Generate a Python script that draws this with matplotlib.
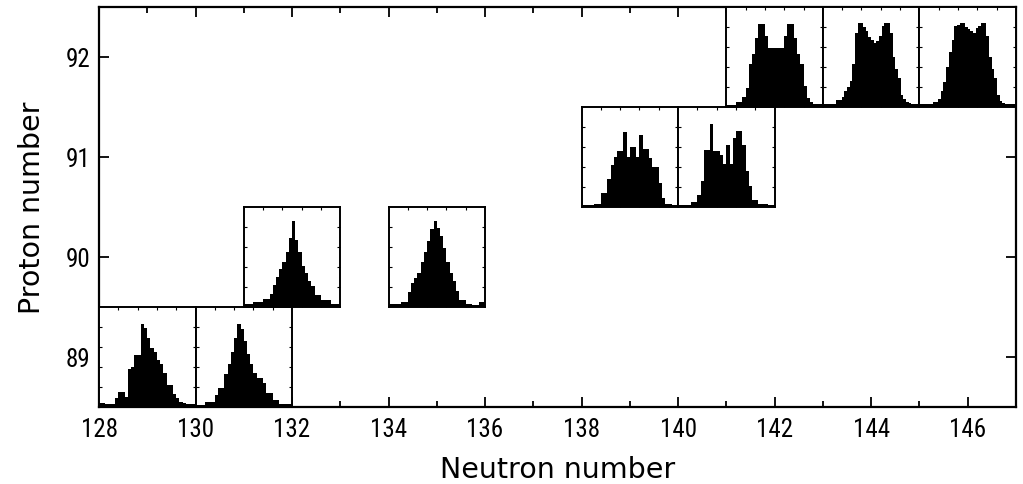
import matplotlib
matplotlib.use("Agg")
import matplotlib.pyplot as plt
import numpy as np

# nuclei (neutron number, proton number) with fragment mass distributions
nuclei_N = [129, 131, 132, 135, 139, 141, 142, 144, 146]
nuclei_Z = [89, 89, 90, 90, 91, 91, 92, 92, 92]

hist_129_89 = [0.04, 0.04, 0.03, 0.03, 0.03, 0.09, 0.15, 0.15, 0.10, 0.38, 0.40, 0.52, 0.52, 0.83, 0.79,
               0.69, 0.59, 0.55, 0.47, 0.43, 0.34, 0.22, 0.22, 0.13, 0.09, 0.05, 0.04, 0.03, 0.03, 0.03]
hist_131_89 = [0.02, 0.02, 0.02, 0.05, 0.05, 0.05, 0.12, 0.19, 0.19, 0.33, 0.43, 0.55, 0.69, 0.83, 0.78,
               0.66, 0.53, 0.43, 0.34, 0.29, 0.29, 0.24, 0.14, 0.14, 0.07, 0.07, 0.03, 0.03, 0.03, 0.03]
hist_132_90 = [0.03, 0.03, 0.03, 0.05, 0.05, 0.05, 0.08, 0.08, 0.13, 0.22, 0.30, 0.38, 0.45, 0.55, 0.69,
               0.86, 0.67, 0.55, 0.41, 0.34, 0.26, 0.21, 0.12, 0.12, 0.07, 0.07, 0.07, 0.03, 0.03, 0.03]
hist_135_90 = [0.03, 0.03, 0.03, 0.03, 0.05, 0.05, 0.15, 0.24, 0.29, 0.34, 0.45, 0.55, 0.66, 0.78, 0.86,
               0.79, 0.71, 0.59, 0.45, 0.34, 0.26, 0.16, 0.07, 0.07, 0.03, 0.03, 0.02, 0.02, 0.05, 0.05]
hist_139_91 = [0.02, 0.02, 0.02, 0.02, 0.03, 0.03, 0.14, 0.14, 0.28, 0.42, 0.50, 0.56, 0.56, 0.75, 0.50,
               0.60, 0.60, 0.50, 0.72, 0.58, 0.58, 0.49, 0.40, 0.40, 0.24, 0.09, 0.03, 0.03, 0.02, 0.02]
hist_141_91 = [0.02, 0.02, 0.02, 0.02, 0.05, 0.05, 0.12, 0.26, 0.57, 0.57, 0.83, 0.56, 0.56, 0.52, 0.43,
               0.62, 0.43, 0.69, 0.76, 0.76, 0.62, 0.36, 0.21, 0.07, 0.07, 0.03, 0.03, 0.03, 0.02, 0.02]
hist_142_92 = [0.02, 0.02, 0.02, 0.05, 0.05, 0.10, 0.19, 0.43, 0.53, 0.69, 0.83, 0.83, 0.71, 0.59, 0.59,
               0.59, 0.59, 0.59, 0.71, 0.83, 0.83, 0.69, 0.53, 0.43, 0.21, 0.09, 0.05, 0.03, 0.03, 0.03]
hist_144_92 = [0.03, 0.03, 0.03, 0.03, 0.03, 0.07, 0.07, 0.10, 0.16, 0.20, 0.26, 0.43, 0.74, 0.84, 0.84,
               0.80, 0.76, 0.70, 0.67, 0.64, 0.66, 0.71, 0.81, 0.84, 0.84, 0.74, 0.50, 0.38, 0.29, 0.12,
               0.08, 0.05, 0.04, 0.03, 0.03, 0.03]
hist_146_92 = [0.03, 0.03, 0.03, 0.03, 0.03, 0.05, 0.05, 0.08, 0.16, 0.25, 0.40, 0.55, 0.67, 0.81, 0.82,
               0.84, 0.84, 0.80, 0.78, 0.76, 0.74, 0.79, 0.81, 0.84, 0.84, 0.71, 0.50, 0.38, 0.29, 0.12,
               0.06, 0.04, 0.03, 0.03, 0.03, 0.03]
histograms = [hist_129_89, hist_131_89, hist_132_90, hist_135_90, hist_139_91,
              hist_141_91, hist_142_92, hist_144_92, hist_146_92]

x_major = [128, 130, 132, 134, 136, 138, 140, 142, 144, 146]
y_major = [89, 90, 91, 92]

TICK_FONT = ['Roboto Condensed', 'DejaVu Sans']
LABEL_FONT = ['DejaVu Sans']
plt.rcParams['font.family'] = TICK_FONT

fig = plt.figure(figsize=(10.23, 4.85), dpi=100)
ax = fig.add_axes([0.0968, 0.1588, 0.8962, 0.8247])
ax.set_xlim(128, 147)
ax.set_ylim(88.5, 92.5)
ax.set_xticks(x_major)
ax.set_xticks(np.arange(128, 148, 1), minor=True)
ax.set_yticks(y_major)
ax.tick_params(which='both', direction='in', top=True, right=True, width=1.3, colors='black')
ax.tick_params(which='major', length=7, labelsize=18)
ax.tick_params(axis='x', which='major', pad=7)
ax.tick_params(axis='y', which='major', pad=6)
ax.tick_params(which='minor', length=4)
for s in ax.spines.values():
    s.set_linewidth(1.6)
ax.set_xlabel('Neutron number', fontsize=20.5, labelpad=10, family=LABEL_FONT)
ax.set_ylabel('Proton number', fontsize=20.5, labelpad=14, family=LABEL_FONT)

for N, Z, h in zip(nuclei_N, nuclei_Z, histograms):
    ins = ax.inset_axes([N - 1, Z - 0.5, 2, 1], transform=ax.transData)
    nb = len(h)
    ins.stairs(h, np.arange(nb + 1), fill=True, color='black', baseline=0)
    ins.set_xlim(0, nb)
    ins.set_ylim(0, 1)
    ins.set_xticks(np.linspace(0, nb, 6)[1:-1])
    ins.set_yticks([0.2, 0.4, 0.6, 0.8])
    ins.tick_params(direction='in', length=2.5, width=0.8, top=True, right=True,
                    labelbottom=False, labelleft=False)
    for s in ins.spines.values():
        s.set_linewidth(1.4)
    ins.set_facecolor('white')

fig.savefig('out.png', dpi=100)
